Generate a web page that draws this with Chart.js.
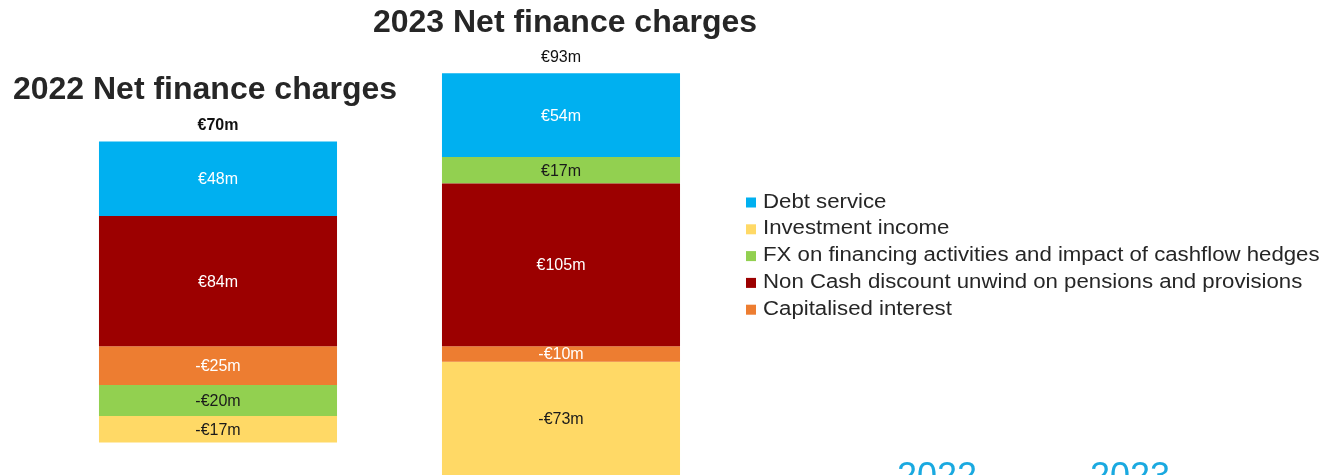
<!DOCTYPE html>
<html>
<head>
<meta charset="utf-8">
<title>Net finance charges</title>
<script src="https://cdn.jsdelivr.net/npm/chart.js@4.4.1/dist/chart.umd.min.js"></script>
<style>
  html, body { margin: 0; padding: 0; background: #fff; }
  #wrap { width: 1337px; height: 475px; position: relative; overflow: hidden; }
</style>
</head>
<body>
<div id="wrap"><canvas id="chart" width="1337" height="475"></canvas></div>
<script>
// Data
const years = ['2022', '2023'];
const debtService = [48, 54];
const investmentIncome = [-17, -73];
const fxHedges = [-20, 17];
const nonCashUnwind = [84, 105];
const capitalisedInterest = [-25, -10];
const netTotals = [70, 93];
const titles = ['2022 Net finance charges', '2023 Net finance charges'];

const FONT = "'Liberation Sans', Arial, sans-serif";

// series in legend order
const series = [
  { label: 'Debt service', data: debtService, color: '#00B0F0', text: '#ffffff' },
  { label: 'Investment income', data: investmentIncome, color: '#FFD966', text: '#1a1a1a' },
  { label: 'FX on financing activities and impact of cashflow hedges', data: fxHedges, color: '#92D050', text: '#1a1a1a' },
  { label: 'Non Cash discount unwind on pensions and provisions', data: nonCashUnwind, color: '#9C0000', text: '#ffffff' },
  { label: 'Capitalised interest', data: capitalisedInterest, color: '#ED7D31', text: '#ffffff' }
];
// stacking order (from zero outwards)
const stackOrder = [3, 4, 2, 1, 0];

const fmt = v => (v < 0 ? '-€' : '€') + Math.abs(v) + 'm';

// Segment labels, totals, titles
const labelsPlugin = {
  id: 'labels',
  afterDatasetsDraw(chart) {
    const ctx = chart.ctx;
    ctx.save();
    ctx.textAlign = 'center';
    ctx.textBaseline = 'middle';
    ctx.font = '16px ' + FONT;
    chart.data.datasets.forEach((ds, i) => {
      const meta = chart.getDatasetMeta(i);
      meta.data.forEach((bar, j) => {
        ctx.fillStyle = ds.textColor;
        ctx.fillText(fmt(ds.data[j]), bar.x, (bar.y + bar.base) / 2 + 1);
      });
    });
    // totals above each bar
    const yScale = chart.scales.y;
    const xScale = chart.scales.x;
    netTotals.forEach((t, j) => {
      let top = 0;
      chart.data.datasets.forEach(ds => { if (ds.data[j] > 0) top += ds.data[j]; });
      ctx.fillStyle = '#111';
      ctx.font = (j === 0 ? 'bold ' : '') + '16px ' + FONT;
      ctx.fillText(fmt(t), xScale.getPixelForValue(j), yScale.getPixelForValue(top) - 16);
    });
    // titles
    ctx.fillStyle = '#262626';
    ctx.font = 'bold 32px ' + FONT;
    ctx.textBaseline = 'alphabetic';
    ctx.fillText(titles[0], 205, 99);
    ctx.fillText(titles[1], 565, 32);
    ctx.restore();
  }
};

// Legend and the slide's year tabs at the bottom
const legendPlugin = {
  id: 'sideLegend',
  afterDraw(chart) {
    const ctx = chart.ctx;
    ctx.save();
    ctx.textBaseline = 'alphabetic';
    ctx.textAlign = 'left';
    series.forEach((s, i) => {
      const y = 207.5 + i * 26.8;
      ctx.fillStyle = s.color;
      ctx.fillRect(746, y - 10, 10, 10);
      // legend text in the slide is a little wider than plain Arial
      ctx.save();
      ctx.translate(763, y);
      ctx.scale(1.11, 1);
      ctx.font = '20px ' + FONT;
      ctx.fillStyle = '#262626';
      ctx.fillText(s.label, 0, 0);
      ctx.restore();
    });
    ctx.fillStyle = '#1AA9E0';
    ctx.font = '36px ' + FONT;
    ctx.fillText(years[0], 897, 488);
    ctx.fillText(years[1], 1090, 488);
    ctx.restore();
  }
};

new Chart(document.getElementById('chart'), {
  type: 'bar',
  data: {
    labels: years,
    datasets: stackOrder.map(k => ({
      label: series[k].label,
      data: series[k].data,
      backgroundColor: series[k].color,
      textColor: series[k].text,
      borderWidth: 0,
      barPercentage: 0.694,
      categoryPercentage: 1
    }))
  },
  options: {
    responsive: false,
    animation: false,
    layout: { padding: { left: 46.5, right: 604.5, top: 0, bottom: 0 } },
    plugins: {
      legend: { display: false },
      tooltip: { enabled: false }
    },
    scales: {
      x: { stacked: true, display: false },
      y: { stacked: true, display: false, min: -83, max: 223.3 }
    }
  },
  plugins: [labelsPlugin, legendPlugin]
});
</script>
</body>
</html>
